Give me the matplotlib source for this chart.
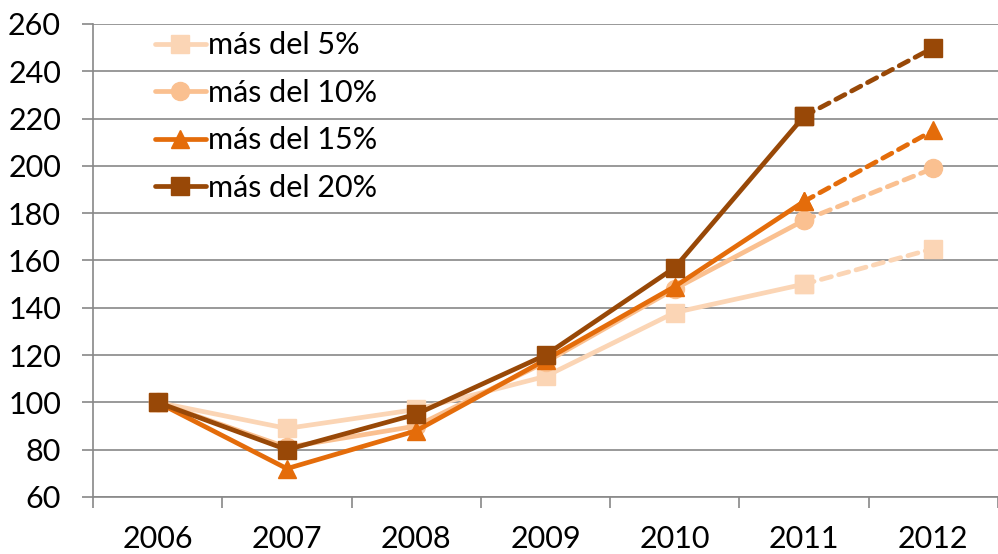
import numpy as np
import matplotlib
matplotlib.use('Agg')
import matplotlib.pyplot as plt
from matplotlib import rcParams
rcParams['font.family'] = ['Lato', 'DejaVu Sans']

years = ['2006', '2007', '2008', '2009', '2010', '2011', '2012']
mas5 = [100, 89, 97, 111, 138, 150, 165]
mas10 = [100, 81, 90, 117, 148, 177, 199]
mas15 = [100, 72, 88, 118, 149, 185, 215]
mas20 = [100, 80, 95, 120, 157, 221, 250]

labels = ['más del 5%', 'más del 10%', 'más del 15%', 'más del 20%']
colors = ['#FBD5B5', '#FAC090', '#E46C0A', '#984807']
markers = ['s', 'o', '^', 's']
series = [mas5, mas10, mas15, mas20]

fig = plt.figure(figsize=(9.98, 5.54), dpi=100)
ax = fig.add_axes([93 / 998, 1 - 497 / 554, 905 / 998, 473 / 554])

x = np.arange(len(years))
for vals, lab, c, m in zip(series, labels, colors, markers):
    # solid up to 2011, dashed for the last step (estimate)
    ax.plot(x[:6], vals[:6], color=c, lw=3.4, marker=m, ms=13,
            label=lab, zorder=3, solid_capstyle='round')
    ax.plot(x[5:], vals[5:], color=c, lw=3.4, ls=(0, (2.2, 1.6)), marker=m,
            ms=13, zorder=3, dash_capstyle='round')

ax.set_xlim(-0.5, 6.5)
ax.set_ylim(60, 260)
ax.set_yticks(np.arange(60, 261, 20))
ax.set_xticks(x)
ax.set_xticklabels(years)
ax.set_xticks(np.arange(-0.5, 6.6, 1), minor=True)
ax.tick_params(axis='x', which='major', length=0, pad=20, labelsize=22)
ax.tick_params(axis='x', which='minor', length=8, width=1.2, color='#888888')
ax.tick_params(axis='y', length=8, width=1.2, color='#888888', pad=15, labelsize=22)

ax.grid(axis='y', color='#888888', lw=1.2)
ax.set_axisbelow(True)
for s in ['top', 'right']:
    ax.spines[s].set_visible(False)
for s in ['left', 'bottom']:
    ax.spines[s].set_color('#888888')
    ax.spines[s].set_linewidth(1.2)

ax.legend(loc='upper left', bbox_to_anchor=(0.045, 1.03), frameon=False,
          fontsize=22, handlelength=1.65, handletextpad=0.08, labelspacing=0.64,
          borderaxespad=0.3)

fig.savefig('out.png', dpi=100)
